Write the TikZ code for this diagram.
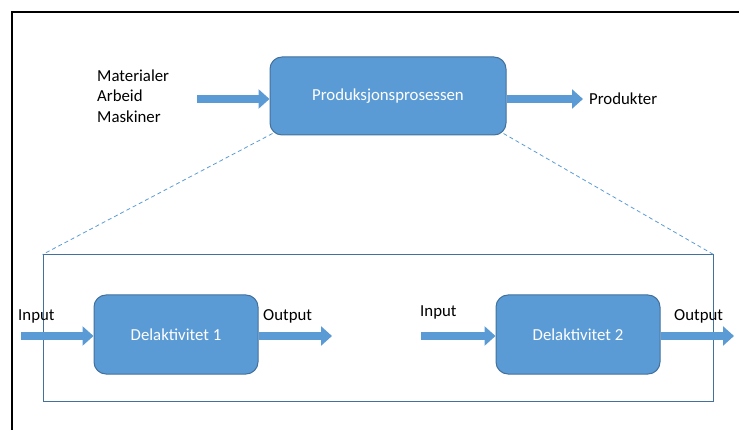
\documentclass[tikz,border=0pt]{standalone}
\usepackage{fontspec}
\setmainfont{Carlito}
\usetikzlibrary{arrows.meta}
\definecolor{boxfill}{HTML}{5B9BD5}
\definecolor{boxline}{HTML}{41719C}
\begin{document}
\begin{tikzpicture}[x=1pt,y=-1pt,
  every node/.style={font=\fontsize{16.8}{20.5}\selectfont, inner sep=0pt},
  procbox/.style={draw=boxline, line width=1pt, fill=boxfill, rounded corners=12pt,
    text=white, minimum width=#1, minimum height=79pt},
  blockarrow/.style={draw=boxfill, line width=8pt,
    -{Triangle[length=11pt,width=19pt]}},
  label/.style={anchor=base west, text=black},
  zoomline/.style={draw=boxfill, line width=0.8pt, dash pattern=on 4pt off 3pt}
]
\useasboundingbox (0,0) rectangle (739,430);
% outer frame
\draw[line width=1.6pt, black] (12,430) -- (12,12) -- (739,12);

% top level process
\node[procbox=236pt, minimum height=78pt] (prod) at (388,96) {Produksjonsprosessen};
\node[label, align=left] (mat) at (97,82) {Materialer};
\node[label] (arb) at (97,102) {Arbeid};
\node[label] (mask) at (97,123) {Maskiner};
\node[label] (produkter) at (589,105) {Produkter};
\coordinate (in0) at (197,99);
\coordinate (out0) at (583,99);
\draw[blockarrow] (in0) -- (in0 -| prod.west);
\draw[blockarrow] (prod.east |- in0) -- (out0);

% detailed view
\node[draw=boxline, line width=1pt, minimum width=670pt, minimum height=146pt] (detail) at (378,328) {};
\draw[zoomline] (prod.south west) ++(3,-2) -- (detail.north west);
\draw[zoomline] (prod.south east) ++(-3,-2) -- (detail.north east);

\node[procbox=164pt] (d1) at (176,334.5) {Delaktivitet 1};
\node[procbox=164pt] (d2) at (578,334.5) {Delaktivitet 2};

\coordinate (in1) at (21,336);
\coordinate (out1) at (332,336);
\coordinate (in2) at (421,336);
\coordinate (out2) at (734,336);
\draw[blockarrow] (in1) -- (in1 -| d1.west);
\draw[blockarrow] (d1.east |- out1) -- (out1);
\draw[blockarrow] (in2) -- (in2 -| d2.west);
\draw[blockarrow] (d2.east |- out2) -- (out2);

\node[label] (lin1) at (18,320) {Input};
\node[label] (lout1) at (263,320) {Output};
\node[label] (lin2) at (420,317) {Input};
\node[label] (lout2) at (674,320) {Output};
\end{tikzpicture}
\end{document}
